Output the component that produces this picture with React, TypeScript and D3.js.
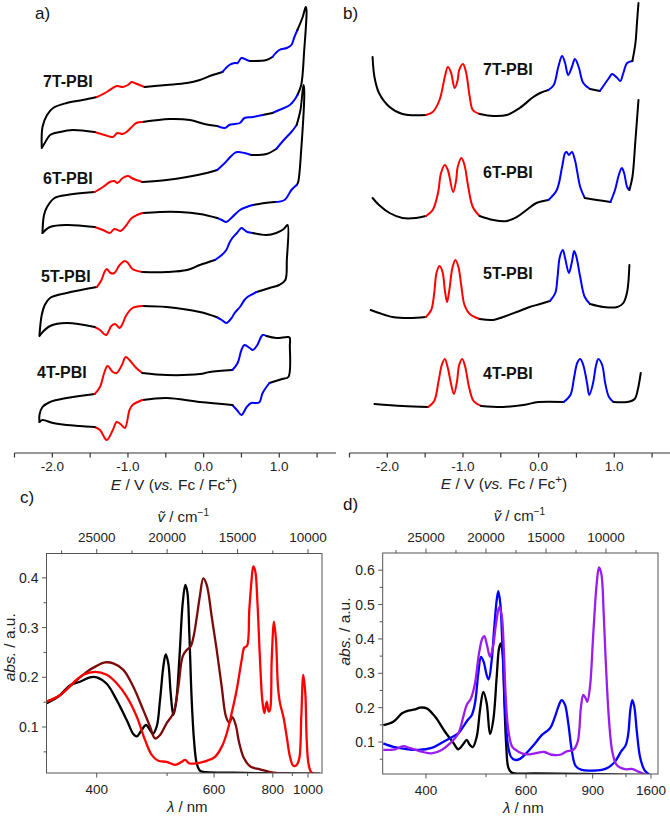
import React from 'react';
import * as d3 from 'd3';

type P = [number, number, string];
type S = [number, number];

// ---------- a) cyclic voltammograms: [E (V vs Fc/Fc+), current (a.u., offset), segment colour]
const cv7T: P[] = [
  [-2.14,303,'k'],[-2.13,323,'k'],[-2.07,335,'k'],[-1.99,342,'k'],[-1.81,347,'k'],[-1.60,350,'k'],
  [-1.41,353,'r'],[-1.28,358,'r'],[-1.18,363,'r'],[-1.14,364,'r'],[-1.07,363,'r'],[-1.00,365,'r'],[-0.95,368,'r'],[-0.91,367,'r'],[-0.85,365,'r'],
  [-0.78,363,'k'],[-0.49,365,'k'],[-0.22,367,'k'],[-0.05,370,'k'],[0.12,375,'k'],
  [0.25,378,'b'],[0.34,385,'b'],[0.41,387,'b'],[0.45,387,'b'],[0.50,392,'b'],[0.57,390,'b'],
  [0.61,389,'k'],[0.83,390,'k'],
  [0.91,393,'b'],[1.00,400,'b'],[1.10,402,'b'],[1.16,405,'b'],[1.20,413,'b'],
  [1.24,420,'k'],[1.31,433,'k'],[1.35,443,'k'],
  [1.36,440,'k'],[1.33,400,'k'],[1.29,365,'k'],
  [1.24,355,'b'],[1.20,350,'b'],[1.14,345,'b'],[1.00,340,'b'],
  [0.91,337,'k'],
  [0.78,335,'b'],[0.65,333,'b'],[0.54,332,'b'],[0.48,327,'b'],[0.41,326,'b'],[0.34,325,'b'],[0.28,322,'b'],
  [0.18,324,'k'],[0.01,326,'k'],[-0.18,330,'k'],[-0.45,331,'k'],
  [-0.81,328,'r'],[-0.89,327,'r'],[-0.95,323,'r'],[-1.02,318,'r'],[-1.07,316,'r'],[-1.14,317,'r'],[-1.20,313,'r'],[-1.31,315,'r'],
  [-1.44,318,'k'],[-1.73,320,'k'],[-1.90,318,'k'],[-2.03,315,'k'],[-2.10,307,'k'],[-2.14,302,'k'],
];
const cv6T: P[] = [
  [-2.13,217,'k'],[-2.11,235,'k'],[-2.07,243,'k'],[-1.97,252,'k'],[-1.81,255,'k'],
  [-1.44,258,'r'],[-1.33,263,'r'],[-1.24,268,'r'],[-1.18,269,'r'],[-1.14,267,'r'],[-1.07,272,'r'],[-1.00,274,'r'],[-0.95,272,'r'],[-0.89,270,'r'],
  [-0.81,268,'k'],[-0.49,270,'k'],[-0.22,273,'k'],[0.04,277,'k'],
  [0.18,280,'b'],[0.28,287,'b'],[0.34,292,'b'],[0.41,297,'b'],[0.45,298,'b'],[0.54,297,'b'],
  [0.63,295,'k'],[0.83,296,'k'],
  [0.96,301,'b'],[1.06,310,'b'],[1.16,318,'b'],
  [1.23,325,'k'],[1.28,340,'k'],[1.32,365,'k'],
  [1.33,360,'k'],[1.29,300,'k'],[1.25,268,'k'],
  [1.23,265,'b'],[1.16,260,'b'],[1.07,250,'b'],
  [0.94,248,'k'],[0.81,247,'k'],
  [0.65,245,'b'],[0.57,243,'b'],[0.48,240,'b'],[0.38,233,'b'],[0.30,228,'b'],[0.24,230,'b'],
  [0.18,232,'k'],[-0.05,236,'k'],[-0.32,238,'k'],[-0.58,238,'k'],
  [-0.81,237,'r'],[-0.95,232,'r'],[-1.03,224,'r'],[-1.10,219,'r'],[-1.18,221,'r'],[-1.24,217,'r'],[-1.33,220,'r'],
  [-1.44,223,'k'],[-1.81,225,'k'],[-2.03,223,'k'],[-2.13,217,'k'],
];
const cv5T: P[] = [
  [-2.17,115,'k'],[-2.14,135,'k'],[-2.10,145,'k'],[-2.03,152,'k'],[-1.81,157,'k'],
  [-1.41,163,'r'],[-1.35,170,'r'],[-1.31,178,'r'],[-1.28,181,'r'],[-1.23,177,'r'],[-1.18,177,'r'],[-1.11,185,'r'],[-1.04,189,'r'],[-1.00,187,'r'],[-0.94,181,'r'],
  [-0.81,178,'k'],[-0.49,178,'k'],[-0.22,180,'k'],[-0.05,185,'k'],
  [0.15,190,'b'],[0.24,195,'b'],[0.30,200,'b'],[0.34,207,'b'],[0.38,212,'b'],[0.44,217,'b'],[0.50,222,'b'],[0.54,220,'b'],[0.58,218,'b'],
  [0.65,217,'k'],[0.83,215,'k'],[0.96,217,'k'],[1.06,221,'k'],[1.11,225,'k'],
  [1.10,190,'k'],[1.08,170,'k'],[1.00,165,'k'],[0.87,162,'k'],
  [0.70,158,'b'],[0.58,153,'b'],[0.54,150,'b'],[0.48,143,'b'],[0.41,137,'b'],[0.37,132,'b'],[0.30,127,'b'],[0.24,130,'b'],
  [0.17,133,'k'],[-0.05,138,'k'],[-0.49,143,'k'],
  [-0.81,144,'r'],[-0.94,142,'r'],[-1.02,135,'r'],[-1.08,125,'r'],[-1.11,122,'r'],[-1.17,126,'r'],[-1.22,124,'r'],[-1.29,115,'r'],[-1.37,120,'r'],
  [-1.44,123,'k'],[-1.81,127,'k'],[-2.03,124,'k'],[-2.14,117,'k'],[-2.17,114,'k'],
];
const cv4T: P[] = [
  [-2.17,28,'k'],[-2.17,35,'k'],[-2.13,43,'k'],[-2.03,48,'k'],[-1.81,52,'k'],
  [-1.44,56,'r'],[-1.37,63,'r'],[-1.31,78,'r'],[-1.27,84,'r'],[-1.20,78,'r'],[-1.15,77,'r'],[-1.08,85,'r'],[-1.03,93,'r'],[-0.98,90,'r'],[-0.89,82,'r'],
  [-0.81,77,'k'],[-0.49,75,'k'],[-0.05,76,'k'],[0.08,78,'k'],
  [0.38,80,'b'],[0.45,87,'b'],[0.50,100,'b'],[0.54,105,'b'],[0.61,102,'b'],[0.65,100,'b'],[0.71,105,'b'],[0.78,115,'b'],
  [0.83,114,'k'],[0.96,112,'k'],[1.12,113,'k'],[1.14,112,'k'],
  [1.14,105,'k'],[1.12,73,'k'],[1.04,71,'k'],
  [0.87,67,'b'],[0.78,57,'b'],[0.74,48,'b'],[0.70,47,'b'],[0.63,47,'b'],[0.57,43,'b'],[0.50,35,'b'],[0.44,40,'b'],
  [0.38,45,'k'],[-0.05,48,'k'],[-0.49,52,'k'],
  [-0.81,50,'r'],[-0.94,45,'r'],[-0.98,40,'r'],[-1.04,22,'r'],[-1.10,26,'r'],[-1.15,28,'r'],[-1.20,20,'r'],[-1.28,10,'r'],[-1.37,20,'r'],
  [-1.44,23,'k'],[-1.64,24,'k'],[-1.81,25,'k'],[-1.99,27,'k'],[-2.13,30,'k'],[-2.17,28,'k'],
];

// ---------- b) differential pulse voltammograms
const dpv7T: P[] = [
  [-2.195,393,'k'],[-2.17,373,'k'],[-2.11,357,'k'],[-1.97,343,'k'],[-1.80,336,'k'],
  [-1.49,335,'r'],[-1.40,338,'r'],[-1.31,350,'r'],[-1.24,373,'r'],[-1.20,383,'r'],[-1.16,378,'r'],[-1.11,362,'r'],[-1.07,370,'r'],[-1.05,380,'r'],[-1.00,386,'r'],[-0.96,378,'r'],[-0.91,353,'r'],[-0.87,340,'r'],
  [-0.78,336,'k'],[-0.60,334,'k'],[-0.42,335,'k'],[-0.25,342,'k'],[-0.07,353,'k'],[0.02,357,'k'],
  [0.13,360,'b'],[0.20,365,'b'],[0.26,383,'b'],[0.31,394,'b'],[0.35,387,'b'],[0.39,375,'b'],[0.44,383,'b'],[0.48,391,'b'],[0.53,383,'b'],[0.59,367,'b'],
  [0.68,361,'k'],
  [0.81,359,'b'],[0.93,372,'b'],[0.97,376,'b'],[1.04,372,'b'],[1.08,369,'b'],[1.12,377,'b'],[1.17,387,'b'],
  [1.24,389,'k'],[1.28,407,'k'],[1.30,427,'k'],[1.32,447,'k'],
];
const dpv6T: P[] = [
  [-2.195,252,'k'],[-2.11,245,'k'],[-1.97,237,'k'],[-1.80,232,'k'],[-1.62,232,'k'],
  [-1.49,234,'r'],[-1.40,240,'r'],[-1.33,257,'r'],[-1.29,277,'r'],[-1.24,285,'r'],[-1.20,280,'r'],[-1.13,258,'r'],[-1.09,270,'r'],[-1.07,283,'r'],[-1.02,292,'r'],[-0.98,285,'r'],[-0.93,263,'r'],[-0.87,243,'r'],
  [-0.78,234,'k'],[-0.60,230,'k'],[-0.42,229,'k'],[-0.29,233,'k'],[-0.16,240,'k'],[-0.03,247,'k'],
  [0.13,250,'b'],[0.24,260,'b'],[0.31,283,'b'],[0.35,297,'b'],[0.37,298,'b'],[0.40,295,'b'],[0.44,298,'b'],[0.48,290,'b'],[0.55,263,'b'],
  [0.61,252,'k'],[0.77,250,'k'],
  [0.95,248,'b'],[1.01,260,'b'],[1.06,275,'b'],[1.10,282,'b'],[1.13,277,'b'],[1.17,263,'b'],
  [1.20,260,'k'],[1.24,273,'k'],[1.28,310,'k'],[1.32,350,'k'],
];
const dpv5T: P[] = [
  [-2.22,140,'k'],[-2.11,137,'k'],[-1.93,133,'k'],[-1.71,132,'k'],
  [-1.49,133,'r'],[-1.42,140,'r'],[-1.38,157,'r'],[-1.35,177,'r'],[-1.31,184,'r'],[-1.27,178,'r'],[-1.24,160,'r'],[-1.21,148,'r'],[-1.18,160,'r'],[-1.14,182,'r'],[-1.10,190,'r'],[-1.06,183,'r'],[-1.02,163,'r'],[-0.98,145,'r'],[-0.91,136,'r'],
  [-0.78,131,'k'],[-0.60,130,'k'],[-0.47,133,'k'],[-0.29,138,'k'],[-0.12,143,'k'],[0.02,146,'k'],
  [0.15,149,'b'],[0.22,157,'b'],[0.25,173,'b'],[0.28,193,'b'],[0.32,200,'b'],[0.35,192,'b'],[0.40,177,'b'],[0.44,188,'b'],[0.47,199,'b'],[0.50,193,'b'],[0.55,173,'b'],[0.61,153,'b'],
  [0.68,146,'k'],[0.86,143,'k'],[1.04,143,'k'],[1.12,147,'k'],[1.17,158,'k'],[1.20,185,'k'],
];
const dpv4T: P[] = [
  [-2.17,46,'k'],[-1.80,44,'k'],
  [-1.46,43,'r'],[-1.38,49,'r'],[-1.32,70,'r'],[-1.28,85,'r'],[-1.24,91,'r'],[-1.20,82,'r'],[-1.16,67,'r'],[-1.12,56,'r'],[-1.08,68,'r'],[-1.05,85,'r'],[-1.01,91,'r'],[-0.97,83,'r'],[-0.92,63,'r'],[-0.86,49,'r'],
  [-0.76,44,'k'],[-0.47,43,'k'],[-0.20,45,'k'],[0.00,48,'k'],
  [0.33,48,'b'],[0.42,55,'b'],[0.47,73,'b'],[0.51,87,'b'],[0.55,91,'b'],[0.59,85,'b'],[0.64,67,'b'],[0.67,55,'b'],[0.72,67,'b'],[0.76,85,'b'],[0.79,91,'b'],[0.84,85,'b'],[0.88,67,'b'],[0.93,53,'b'],
  [0.99,48,'k'],[1.17,48,'k'],[1.27,51,'k'],[1.31,60,'k'],[1.35,77,'k'],
];

const compounds = ['7T-PBI', '6T-PBI', '5T-PBI', '4T-PBI'];
const cvData = [cv7T, cv6T, cv5T, cv4T];
const dpvData = [dpv7T, dpv6T, dpv5T, dpv4T];
const cvLabelLevel = [363, 266, 168, 72];
const dpvLabelLevel = [375, 272, 171, 71];
const eTicks = [-2.5, -2, -1.5, -1, -0.5, 0, 0.5, 1, 1.5];
const eLabels = [-2, -1, 0, 1];

// ---------- c) absorption spectra [wavenumber cm-1, absorbance]
const blackC: S[] = [
  [28550,0.148],[27726,0.161],[27130,0.178],[26775,0.186],[26186,0.191],[25476,0.200],[25000,0.200],[24290,0.187],[23580,0.154],[22870,0.114],[22402,0.086],[22160,0.081],[21805,0.094],[21500,0.104],[21216,0.094],[21025,0.086],[20741,0.101],[20506,0.154],[20272,0.221],[20102,0.246],[19917,0.228],[19747,0.168],[19562,0.124],[19370,0.148],[19136,0.235],[18895,0.349],[18710,0.386],[18568,0.372],[18426,0.289],[18256,0.154],[18093,0.074],[17901,0.027],[17667,0.012],[17191,0.009],[15303,0.008],[12932,0.007],[9148,0.006],
];
const maroonC: S[] = [
  [28550,0.151],[27605,0.164],[26661,0.188],[25710,0.211],[25000,0.223],[24411,0.230],[23822,0.228],[23110,0.215],[22402,0.181],[21692,0.134],[21216,0.101],[20861,0.077],[20506,0.084],[20031,0.108],[19562,0.128],[19207,0.181],[18895,0.242],[18611,0.255],[18330,0.262],[18100,0.285],[17901,0.320],[17667,0.365],[17432,0.399],[17191,0.386],[16836,0.322],[16481,0.255],[16126,0.181],[15821,0.121],[15587,0.109],[15374,0.120],[15132,0.104],[14898,0.070],[14543,0.037],[14067,0.020],[13407,0.015],[12463,0.008],[11277,0.006],
];
const redC: S[] = [
  [28550,0.151],[27605,0.164],[26661,0.189],[25951,0.205],[25121,0.211],[24290,0.205],[23580,0.188],[22870,0.161],[22160,0.121],[21571,0.074],[21096,0.044],[20627,0.032],[20031,0.030],[19442,0.024],[18966,0.030],[18731,0.034],[18426,0.027],[17901,0.027],[17191,0.032],[16602,0.040],[16126,0.060],[15771,0.087],[15416,0.128],[15061,0.175],[14706,0.235],[14521,0.260],[14330,0.263],[14167,0.336],[14025,0.389],[13883,0.423],[13741,0.413],[13599,0.356],[13407,0.235],[13244,0.154],[13102,0.128],[12932,0.151],[12790,0.131],[12697,0.134],[12577,0.235],[12414,0.312],[12272,0.275],[12130,0.181],[11988,0.148],[11751,0.121],[11513,0.081],[11277,0.040],[11043,0.022],[10802,0.024],[10617,0.037],[10475,0.121],[10334,0.205],[10191,0.168],[10092,0.074],[9950,0.024],[9737,0.008],[9098,0.005],
];

// ---------- d) absorption spectra
const blackD: S[] = [
  [28558,0.149],[27725,0.159],[27025,0.183],[26608,0.190],[25917,0.195],[25500,0.200],[24942,0.198],[24250,0.174],[23417,0.130],[22725,0.098],[22308,0.079],[21892,0.094],[21608,0.106],[21333,0.091],[21108,0.085],[20775,0.115],[20500,0.193],[20225,0.246],[19942,0.213],[19667,0.123],[19392,0.164],[19108,0.290],[18917,0.372],[18775,0.387],[18608,0.358],[18475,0.222],[18308,0.086],[18142,0.026],[17858,0.011],[15917,0.009],[11750,0.007],[6192,0.004],
];
const blueD: S[] = [
  [28558,0.096],[27725,0.086],[26750,0.080],[25642,0.077],[24525,0.083],[23692,0.098],[22858,0.114],[22308,0.125],[21892,0.145],[21525,0.164],[21192,0.178],[20917,0.213],[20642,0.300],[20417,0.348],[20192,0.333],[19942,0.295],[19775,0.282],[19525,0.338],[19308,0.435],[19108,0.513],[18975,0.539],[18808,0.503],[18608,0.358],[18417,0.203],[18192,0.096],[17917,0.057],[17583,0.048],[17167,0.051],[16608,0.069],[15917,0.096],[15358,0.120],[14667,0.140],[14250,0.174],[13917,0.208],[13692,0.222],[13417,0.208],[13142,0.154],[12858,0.077],[12525,0.030],[12025,0.019],[11192,0.017],[10358,0.019],[9808,0.026],[9250,0.043],[8750,0.072],[8358,0.091],[8142,0.125],[7975,0.193],[7808,0.222],[7642,0.203],[7442,0.135],[7167,0.057],[6808,0.019],[6333,0.004],
];
const purpleD: S[] = [
  [28558,0.077],[27583,0.079],[26892,0.088],[26333,0.082],[25358,0.072],[24525,0.067],[23692,0.077],[23000,0.096],[22308,0.125],[21892,0.174],[21608,0.208],[21250,0.227],[20917,0.271],[20583,0.358],[20308,0.401],[20142,0.408],[19917,0.382],[19667,0.348],[19417,0.377],[19142,0.450],[18892,0.493],[18692,0.469],[18525,0.377],[18358,0.232],[18142,0.135],[17808,0.086],[17308,0.072],[16608,0.064],[15917,0.067],[15142,0.071],[14525,0.063],[13833,0.063],[13275,0.073],[12725,0.077],[12358,0.101],[12083,0.203],[11892,0.237],[11692,0.227],[11558,0.217],[11333,0.261],[11058,0.416],[10775,0.561],[10583,0.608],[10392,0.590],[10192,0.474],[10000,0.319],[9750,0.164],[9475,0.072],[9108,0.033],[8417,0.021],[7858,0.022],[7308,0.014],[6608,0.004],
];

const wnMajor = [25000, 20000, 15000, 10000];
const wnMinorC = [27500, 22500, 17500, 12500];
const wnMinorD = [27500, 22500, 17500, 12500, 7500];
const nmMajorC = [400, 600, 800, 1000];
const nmMinorC = [500, 700, 900];
const nmMajorD = [400, 600, 900, 1600];
const nmMinorD = [500, 750, 1200];
const absMajorC = [0.1, 0.2, 0.3, 0.4];
const absMinorC = [0.05, 0.15, 0.25, 0.35];
const absMajorD = [0.1, 0.2, 0.3, 0.4, 0.5, 0.6];
const absMinorD = [0.05, 0.15, 0.25, 0.35, 0.45, 0.55];

const FONT = "'Liberation Sans', Arial, 'DejaVu Sans', sans-serif";
const COL: Record<string, string> = { k: '#000000', r: '#ff0000', b: '#0000ff' };
const FRAME = '#555555';

function runs(pts: P[]) {
  const out: { c: string; pts: P[] }[] = [];
  for (let i = 0; i < pts.length - 1; i++) {
    const c = pts[i][2];
    if (!out.length || out[out.length - 1].c !== c) out.push({ c, pts: [pts[i]] });
    out[out.length - 1].pts.push(pts[i + 1]);
  }
  return out;
}

function Colored({ data, x, y }: { data: P[]; x: any; y: any }) {
  const line = d3.line<P>().x(d => x(d[0])).y(d => y(d[1])).curve(d3.curveCatmullRom.alpha(0.5));
  return (
    <g>
      {runs(data).map((r, i) => (
        <path key={i} d={line(r.pts) || ''} fill="none" stroke={COL[r.c]} strokeWidth={2}
          strokeLinejoin="round" strokeLinecap="round" />
      ))}
    </g>
  );
}

function EAxis({ x, y0, titleX, titleY }: { x: any; y0: number; titleX: number; titleY: number }) {
  const [a, b] = x.range();
  return (
    <g fontFamily={FONT} fill="#222">
      <line x1={a} x2={b} y1={y0} y2={y0} stroke="#333" strokeWidth={1.2} />
      {eTicks.map(t => (
        <line key={t} x1={x(t)} x2={x(t)} y1={y0} y2={y0 + 4.5} stroke="#333" strokeWidth={1.2} />
      ))}
      {eLabels.map(t => (
        <text key={t} x={x(t)} y={y0 + 18} fontSize={13.5} textAnchor="middle">{t.toFixed(1)}</text>
      ))}
      <text x={titleX} y={titleY} fontSize={15.5} textAnchor="middle">
        <tspan fontStyle="italic">E</tspan> / V (<tspan fontStyle="italic">vs.</tspan> Fc / Fc
        <tspan dy={-6} fontSize={11.5}>+</tspan><tspan dy={6}>)</tspan>
      </text>
    </g>
  );
}

function Spectra({ id, x, y, series, minorWn, nmMajor, nmMinor, absMajor, absMinor, labelX, left }: any) {
  const [x0, x1] = x.range();
  const [yb, yt] = y.range();
  const line = d3.line<S>().x(d => x(d[0])).y(d => y(d[1])).curve(d3.curveCatmullRom.alpha(0.5));
  const cx = (x0 + x1) / 2;
  return (
    <g fontFamily={FONT}>
      <defs>
        <clipPath id={id}><rect x={x0} y={yt} width={x1 - x0} height={yb - yt} /></clipPath>
      </defs>
      <g clipPath={`url(#${id})`}>
        {series.map((s: any, i: number) => (
          <path key={i} d={line(s.data) || ''} fill="none" stroke={s.color} strokeWidth={2.3}
            strokeLinejoin="round" />
        ))}
      </g>
      <rect x={x0} y={yt} width={x1 - x0} height={yb - yt} fill="none" stroke={FRAME} strokeWidth={1} />
      {/* top wavenumber axis */}
      {wnMajor.map(t => <line key={'tM' + t} x1={x(t)} x2={x(t)} y1={yt} y2={yt - 4.5} stroke={FRAME} />)}
      {minorWn.map((t: number) => <line key={'tm' + t} x1={x(t)} x2={x(t)} y1={yt} y2={yt - 3} stroke={FRAME} />)}
      {wnMajor.map(t => <text key={'tl' + t} x={x(t)} y={yt - 11.5} fontSize={13.5} textAnchor="middle" fill="#222">{t}</text>)}
      <text x={cx - 1} y={yt - 32} fontSize={15} textAnchor="middle" fill="#222">
        <tspan fontStyle="italic">ṽ</tspan> / cm<tspan dy={-6} fontSize={10}>−1</tspan>
      </text>
      {/* bottom wavelength axis */}
      {nmMajor.map((t: number) => <line key={'bM' + t} x1={x(1e7 / t)} x2={x(1e7 / t)} y1={yb} y2={yb + 4.5} stroke={FRAME} />)}
      {nmMinor.map((t: number) => <line key={'bm' + t} x1={x(1e7 / t)} x2={x(1e7 / t)} y1={yb} y2={yb + 3} stroke={FRAME} />)}
      {nmMajor.map((t: number) => <text key={'bl' + t} x={x(1e7 / t)} y={yb + 21} fontSize={13.5} textAnchor="middle" fill="#222">{t}</text>)}
      <text x={cx + 3} y={yb + 39} fontSize={15} textAnchor="middle" fill="#222">
        <tspan fontStyle="italic">λ</tspan> / nm
      </text>
      {/* left absorbance axis */}
      {absMajor.map((t: number) => <line key={'lM' + t} x1={x0} x2={x0 - 4.5} y1={y(t)} y2={y(t)} stroke={FRAME} />)}
      {absMinor.map((t: number) => <line key={'lm' + t} x1={x0} x2={x0 - 3} y1={y(t)} y2={y(t)} stroke={FRAME} />)}
      {absMajor.map((t: number) => <text key={'ll' + t} x={x0 - 8} y={y(t) + 5} fontSize={14} textAnchor="end" fill="#222">{t.toFixed(1)}</text>)}
      <text transform={`translate(${left},${(yt + yb) / 2 + labelX}) rotate(-90)`} fontSize={15.5} textAnchor="middle" fill="#222">
        <tspan fontStyle="italic">abs.</tspan> / a.u.
      </text>
    </g>
  );
}

export default function App() {
  const xA = d3.scaleLinear().domain([-2.5, 1.75]).range([14.5, 336]);
  const xB = d3.scaleLinear().domain([-2.5, 1.75]).range([349.5, 671]);
  const yCV = d3.scaleLinear().domain([0, 450]).range([450, 0]);

  const xC = d3.scaleLinear().domain([28564, 9006]).range([46.5, 322]);
  const yC = d3.scaleLinear().domain([0.0075, 0.449]).range([773, 553.5]);
  const xD = d3.scaleLinear().domain([28608, 5667]).range([382.7, 658]);
  const yD = d3.scaleLinear().domain([0.007, 0.65]).range([774, 553]);

  const cvLabelX = [43, 43, 41, 37];

  return (
    <svg width={670} height={816} style={{ position: 'absolute', left: 0, top: 0, background: '#fff' }}>
      <rect width={670} height={816} fill="#fff" />
      {/* panel labels */}
      <g fontFamily={FONT} fontSize={17} fill="#111">
        <text x={35} y={19}>a)</text>
        <text x={343} y={19}>b)</text>
        <text x={20} y={503}>c)</text>
        <text x={343} y={510}>d)</text>
      </g>
      {/* a) CV */}
      {cvData.map((d, i) => <Colored key={i} data={d} x={xA} y={yCV} />)}
      <g fontFamily={FONT} fontSize={16} fontWeight="bold" fill="#111">
        {compounds.map((c, i) => (
          <text key={c} x={cvLabelX[i]} y={yCV(cvLabelLevel[i])}>{c}</text>
        ))}
      </g>
      <EAxis x={xA} y0={453} titleX={174} titleY={490} />
      {/* b) DPV */}
      {dpvData.map((d, i) => <Colored key={i} data={d} x={xB} y={yCV} />)}
      <g fontFamily={FONT} fontSize={16} fontWeight="bold" fill="#111">
        {compounds.map((c, i) => (
          <text key={c} x={483} y={yCV(dpvLabelLevel[i])}>{c}</text>
        ))}
      </g>
      <EAxis x={xB} y0={453} titleX={504} titleY={489} />
      {/* c) spectra */}
      <Spectra id="clipC" x={xC} y={yC} minorWn={wnMinorC} nmMajor={nmMajorC} nmMinor={nmMinorC}
        absMajor={absMajorC} absMinor={absMinorC} left={15} labelX={-16}
        series={[{ data: blackC, color: '#000' }, { data: maroonC, color: '#7d0a0a' }, { data: redC, color: '#ff0000' }]} />
      {/* d) spectra */}
      <Spectra id="clipD" x={xD} y={yD} minorWn={wnMinorD} nmMajor={nmMajorD} nmMinor={nmMinorD}
        absMajor={absMajorD} absMinor={absMinorD} left={350} labelX={-32}
        series={[{ data: blackD, color: '#000' }, { data: blueD, color: '#0000ff' }, { data: purpleD, color: '#9b1cf0' }]} />
    </svg>
  );
}
